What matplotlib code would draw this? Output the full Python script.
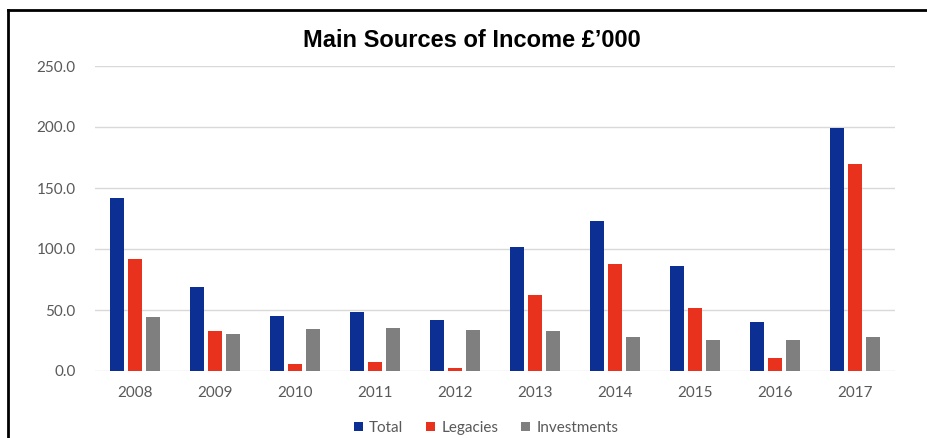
import matplotlib
matplotlib.use("Agg")
import matplotlib.pyplot as plt
import numpy as np
from matplotlib.lines import Line2D

years = ["2008", "2009", "2010", "2011", "2012", "2013", "2014", "2015", "2016", "2017"]
total = [142, 69, 45, 48, 42, 102, 123, 86, 40, 199]
legacies = [92, 33, 5.5, 7.5, 2.7, 62, 88, 52, 10.5, 170]
investments = [44, 30, 34.5, 35, 33.5, 33, 27.5, 25.5, 25.5, 27.5]
series_names = ["Total", "Legacies", "Investments"]
colors = ["#0b2f93", "#e8321e", "#7f7f7f"]

fig = plt.figure(figsize=(9.27, 4.38), dpi=100)
ax = fig.add_axes([95/927, 67/438, 800/927, 305/438])

x = np.arange(len(years))
w = 0.175
step = 0.225
for i, (vals, name, c) in enumerate(zip([total, legacies, investments], series_names, colors)):
    ax.bar(x + (i - 1) * step, vals, width=w, color=c, label=name, zorder=3)

ax.set_xlim(-0.5, len(years) - 0.5)
ax.set_ylim(0, 250)
ax.set_yticks(np.arange(0, 251, 50))
ax.set_yticklabels([f"{v:.1f}" for v in np.arange(0, 251, 50)])
ax.set_xticks(x)
ax.set_xticklabels(years)
ax.grid(axis="y", color="#d9d9d9", linewidth=1, zorder=0)
for s in ax.spines.values():
    s.set_visible(False)
ax.tick_params(axis="both", length=0, colors="#595959", labelsize=11)
ax.tick_params(axis="x", pad=11)
ax.tick_params(axis="y", pad=14)
for lab in ax.get_xticklabels() + ax.get_yticklabels():
    lab.set_fontfamily(["Lato", "DejaVu Sans"])

fig.text(472/927, 1 - 47/438, "Main Sources of Income £’000", ha="center", va="baseline",
         fontsize=17, fontweight="bold", family=["Liberation Sans", "DejaVu Sans"], color="black")

leg = ax.legend(loc="center", bbox_to_anchor=(486/927, 1 - 428/438), bbox_transform=fig.transFigure,
                ncol=3, frameon=False, handlelength=0.6, handleheight=0.6,
                handletextpad=0.4, columnspacing=1.5, prop={"family": ["Lato", "DejaVu Sans"], "size": 11})
for t in leg.get_texts():
    t.set_color("#595959")

fig.add_artist(Line2D([8/927, 1.0], [1 - 10/438, 1 - 10/438], transform=fig.transFigure, color="black", linewidth=2))
fig.add_artist(Line2D([8/927, 8/927], [0, 1 - 10/438], transform=fig.transFigure, color="black", linewidth=2))

fig.savefig("out.png", dpi=100)
